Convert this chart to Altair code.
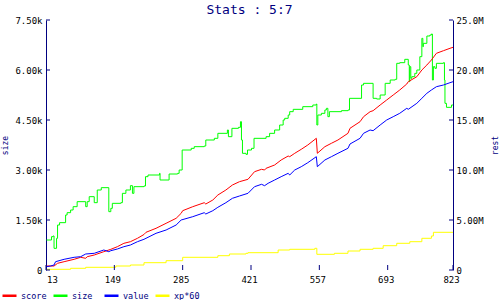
import altair as alt
import pandas as pd

NAVY = "#000080"
FONT = "DejaVu Sans Mono"

series_names = ["score", "size", "value", "xp*60"]
series_colors = ["#ff0000", "#00ff00", "#0000ff", "#ffff00"]

x_ticks = [13, 149, 285, 421, 557, 693, 823]
left_ticks = [0, 1500, 3000, 4500, 6000, 7500]
right_ticks = [0, 5, 10, 15, 20, 25]

size_x = [14, 24, 27, 29, 34, 36, 40, 52, 55, 62, 67, 75, 92, 95, 99, 109, 115, 123, 138, 142,
          145, 162, 165, 172, 181, 185, 188, 208, 211, 216, 239, 240, 258, 275, 278, 284, 302, 308,
          328, 331, 348, 355, 374, 376, 383, 396, 400, 402, 404, 411, 414, 422, 427, 451, 458, 468,
          478, 485, 488, 495, 498, 505, 524, 544, 551, 552, 554, 561, 568, 571, 574, 577, 601, 614,
          617, 641, 645, 664, 671, 678, 688, 698, 708, 711, 717, 727, 734, 736, 737, 739, 741, 747,
          751, 757, 761, 763, 764, 771, 777, 780, 782, 784, 787, 790, 804, 806, 807, 810, 820, 823]
size_v = [900, 1000, 1020, 650, 950, 1350, 1420, 1650, 1720, 1800, 1900, 2050, 1900, 2050, 2200,
          2020, 2400, 2470, 1750, 1850, 2000, 2020, 2300, 2400, 2530, 2300, 2500, 2520, 2800, 2850,
          2900, 2700, 2880, 2900, 3000, 3600, 3650, 3700, 3720, 3900, 3950, 4100, 4200, 4000, 4250,
          4280, 4450, 3900, 3500, 3470, 3600, 3650, 3950, 4000, 4100, 4200, 4350, 4500, 4550, 4650,
          4750, 4820, 4900, 4950, 4980, 4350, 4650, 4700, 4800, 4850, 4600, 4750, 4780, 4800, 5150,
          5550, 5600, 5150, 5130, 5250, 5600, 5700, 5720, 6200, 6220, 6320, 6150, 5650, 6100, 5750,
          5800, 5900, 6000, 6400, 6950, 6700, 6800, 7020, 7050, 7080, 5700, 6100, 6050, 6200, 6220,
          5700, 5000, 4880, 4950, 4950]

score_x = [14, 29, 36, 49, 69, 82, 92, 95, 109, 128, 142, 155, 168, 181, 195, 208, 212, 232, 252,
           272, 282, 285, 305, 328, 331, 345, 355, 371, 384, 398, 415, 428, 442, 448, 451, 468, 481,
           495, 498, 508, 521, 534, 551, 553, 568, 581, 594, 614, 618, 638, 645, 658, 664, 678, 691,
           704, 717, 731, 734, 751, 761, 771, 780, 790, 804, 817, 823]
score_v = [0.4, 0.4, 0.67, 0.83, 1.07, 1.27, 1.17, 1.33, 1.5, 1.83, 2.07, 2.33, 2.67, 2.83, 3.17,
           3.55, 3.77, 4.17, 4.67, 5.17, 5.67, 5.93, 6.33, 6.73, 6.6, 7.0, 7.5, 8.0, 8.5, 8.83, 9.07,
           9.83, 10.07, 10.0, 10.17, 10.5, 11.0, 11.4, 11.33, 11.67, 12.07, 12.5, 13.17, 11.67, 12.33,
           12.67, 13.0, 13.67, 14.17, 14.83, 15.33, 15.83, 15.93, 16.5, 17.0, 17.5, 18.0, 18.6, 18.83,
           19.33, 20.0, 20.5, 21.0, 21.67, 21.93, 22.17, 22.27]

value_x = [14, 22, 29, 32, 49, 69, 82, 92, 109, 128, 138, 142, 155, 168, 181, 195, 208, 212, 232,
           252, 272, 282, 305, 328, 331, 345, 355, 371, 384, 398, 415, 428, 442, 448, 455, 468, 481,
           495, 498, 508, 521, 534, 551, 553, 568, 581, 594, 614, 618, 638, 645, 658, 664, 678, 691,
           704, 717, 731, 734, 751, 761, 771, 780, 790, 804, 817, 823]
value_v = [0.33, 0.4, 0.5, 0.83, 1.07, 1.27, 1.33, 1.6, 1.67, 2.0, 1.83, 1.93, 2.1, 2.33, 2.5, 2.83,
           3.07, 3.17, 3.67, 4.0, 4.5, 5.0, 5.33, 5.73, 5.6, 5.93, 6.27, 6.73, 7.17, 7.4, 7.67, 8.33,
           8.57, 8.43, 8.67, 9.0, 9.33, 9.67, 9.5, 10.0, 10.33, 10.73, 11.33, 10.33, 11.0, 11.33,
           11.67, 12.17, 12.6, 13.17, 13.67, 14.0, 13.93, 14.5, 15.0, 15.33, 15.67, 16.17, 16.07,
           16.67, 17.17, 17.67, 18.0, 18.33, 18.5, 18.73, 18.83]

xp_x = [14, 62, 92, 152, 181, 208, 252, 285, 355, 378, 411, 415, 475, 498, 548, 552, 587, 614, 638,
        664, 684, 711, 737, 761, 780, 784, 823]
xp_v = [0.07, 0.17, 0.27, 0.4, 0.5, 0.73, 0.93, 1.27, 1.43, 1.6, 1.67, 1.73, 2.0, 2.07, 2.17, 1.57,
        1.67, 1.9, 2.07, 2.17, 2.43, 2.67, 2.83, 3.17, 3.4, 3.77, 3.77]

df_size = pd.DataFrame({"x": size_x, "v": size_v, "series": "size"})
df_sv = pd.concat([
    pd.DataFrame({"x": score_x, "v": score_v, "series": "score"}),
    pd.DataFrame({"x": value_x, "v": value_v, "series": "value"}),
])
df_xp = pd.DataFrame({"x": xp_x, "v": xp_v, "series": "xp*60"})
df_xt = pd.DataFrame({"x": x_ticks, "label": [str(t) for t in x_ticks]})

W, H = 407, 250

xscale = alt.Scale(domain=[13, 823], nice=False, zero=False)
lscale = alt.Scale(domain=[0, 7500], nice=False, zero=False)
rscale = alt.Scale(domain=[0, 25], nice=False, zero=False)

color = alt.Color(
    "series:N",
    scale=alt.Scale(domain=series_names, range=series_colors),
    legend=alt.Legend(
        orient="none", legendX=-45, legendY=267, direction="horizontal", title=None,
        symbolType="stroke", symbolSize=196, symbolStrokeWidth=2.5,
        labelFont=FONT, labelFontSize=8.5, labelColor=NAVY, labelOffset=3,
        columnPadding=1, gridAlign="all", padding=0,
    ),
)

xaxis = alt.Axis(values=x_ticks, ticks=False, labels=False, domainColor=NAVY,
                 grid=False, title=None)

left_axis = alt.Axis(values=left_ticks, ticks=False, domainColor=NAVY,
                     labelExpr="datum.value == 0 ? '0' : format(datum.value / 1000, '.2f') + 'k'",
                     labelFont=FONT, labelFontSize=9, labelColor="black", labelPadding=4,
                     grid=False, title="size", titleColor=NAVY, titleFont=FONT,
                     titleFontSize=8, titleFontWeight="normal", titlePadding=5)

right_axis = alt.Axis(values=right_ticks, ticks=False, orient="right", domainColor=NAVY,
                      labelExpr="datum.value == 0 ? '0' : (datum.value < 10 ? format(datum.value, '.2f') : format(datum.value, '.1f')) + 'M'",
                      labelFont=FONT, labelFontSize=9, labelColor="black", labelPadding=3,
                      grid=False, title="rest", titleColor=NAVY, titleFont=FONT,
                      titleFontSize=8, titleFontWeight="normal", titleAngle=270, titlePadding=16)

size_line = alt.Chart(df_size).mark_line(interpolate="step-after", strokeWidth=1).encode(
    x=alt.X("x:Q", scale=xscale, axis=xaxis),
    y=alt.Y("v:Q", scale=lscale, axis=left_axis),
    color=color,
)
left_tick_marks = alt.Chart(pd.DataFrame({"v": left_ticks})).mark_rule(color=NAVY, strokeWidth=1).encode(
    y=alt.Y("v:Q", scale=lscale, axis=None),
    x=alt.value(0), x2=alt.value(4),
)
x_tick_marks = alt.Chart(df_xt).mark_rule(color=NAVY, strokeWidth=1).encode(
    x=alt.X("x:Q", scale=xscale, axis=None),
    y=alt.value(H), y2=alt.value(H - 5),
)
x_first_label = alt.Chart(df_xt.iloc[:1]).mark_text(
    font=FONT, fontSize=9, color="black", align="left", baseline="middle", dx=1
).encode(
    x=alt.X("x:Q", scale=xscale, axis=None),
    y=alt.value(H + 10),
    text="label:N",
)
x_other_labels = alt.Chart(df_xt.iloc[1:]).mark_text(
    font=FONT, fontSize=9, color="black", align="center", baseline="middle", dx=-1.5
).encode(
    x=alt.X("x:Q", scale=xscale, axis=None),
    y=alt.value(H + 10),
    text="label:N",
)
sv_line = alt.Chart(df_sv).mark_line(strokeWidth=1).encode(
    x=alt.X("x:Q", scale=xscale, axis=None),
    y=alt.Y("v:Q", scale=rscale, axis=right_axis),
    color=color,
)
xp_line = alt.Chart(df_xp).mark_line(interpolate="step-after", strokeWidth=1).encode(
    x=alt.X("x:Q", scale=xscale, axis=None),
    y=alt.Y("v:Q", scale=rscale, axis=None),
    color=color,
)
right_tick_marks = alt.Chart(pd.DataFrame({"v": right_ticks})).mark_rule(color=NAVY, strokeWidth=1).encode(
    y=alt.Y("v:Q", scale=rscale, axis=None),
    x=alt.value(W - 4), x2=alt.value(W),
)

chart = alt.layer(
    size_line, xp_line, sv_line, left_tick_marks, x_tick_marks, right_tick_marks,
    x_first_label, x_other_labels,
).resolve_scale(y="independent").properties(
    width=W, height=H,
    title=alt.TitleParams("Stats : 5:7", font=FONT, fontSize=13, fontWeight="normal", color=NAVY,
                          anchor="middle", offset=3, dy=4),
    padding={"left": 46, "top": 20, "right": 47, "bottom": 30},
    autosize=alt.AutoSizeParams(type="none"),
).configure_view(stroke=None)

chart.save("out.html", embed_options={"renderer": "svg", "actions": False})
